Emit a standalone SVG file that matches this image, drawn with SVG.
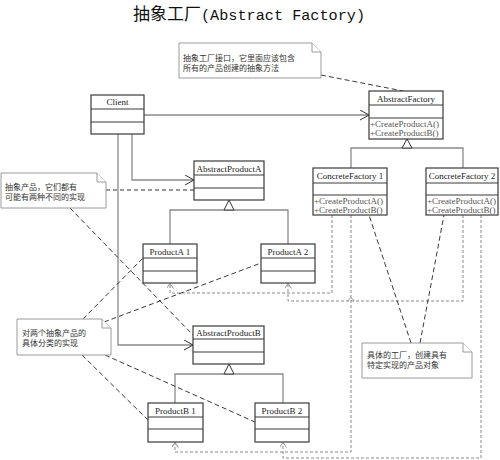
<svg xmlns="http://www.w3.org/2000/svg" width="500" height="460" viewBox="0 0 500 460">
  <style>
    .box { fill: #fff; stroke: #3a3a3a; stroke-width: 1.2; }
    .div { stroke: #3a3a3a; stroke-width: 1.2; }
    .name { font-family: "Liberation Serif", "Noto Sans CJK SC", serif; font-size: 9px; fill: #222; text-anchor: middle; }
    .meth { font-family: "Liberation Serif", "Noto Sans CJK SC", serif; font-size: 9px; fill: #555; }
    .note { fill: #fff; stroke: #9a9a9a; stroke-width: 1; }
    .ntxt { font-family: "Noto Sans CJK SC", sans-serif; font-size: 8px; fill: #333; }
    .solid { fill: none; stroke: #8a8a8a; stroke-width: 1.3; }
    .dep { fill: none; stroke: #8a8a8a; stroke-width: 1; stroke-dasharray: 3 2; }
    .link { fill: none; stroke: #222; stroke-width: 0.9; stroke-dasharray: 5 3; }
    .link2 { fill: none; stroke: #777; stroke-width: 1.3; stroke-dasharray: 4 3; }
    .tri { fill: #fff; stroke: #333; stroke-width: 1; }
  </style>
  <defs>
    <marker id="open" markerUnits="userSpaceOnUse" markerWidth="12" markerHeight="12" refX="9" refY="5" orient="auto">
      <path d="M0,0 L9,5 L0,10" fill="none" stroke="#333" stroke-width="1"/>
    </marker>
    <marker id="depArrow" markerUnits="userSpaceOnUse" markerWidth="8" markerHeight="8" refX="5" refY="3.5" orient="auto">
      <path d="M0,0 L5,3.5 L0,7" fill="none" stroke="#888" stroke-width="0.9"/>
    </marker>
  </defs>

  <text x="133" y="20" font-family="Liberation Mono, Noto Sans CJK SC, monospace" fill="#111"><tspan font-family="Noto Sans CJK SC, sans-serif" font-size="17">抽象工厂</tspan><tspan font-size="15.2">(Abstract Factory)</tspan></text>

  <!-- connectors -->
  <g id="connectors">
    <!-- associations from Client -->
    <path class="solid" d="M144,115 H369" marker-end="url(#open)"/>
    <path class="solid" d="M132,134 V180 H194" marker-end="url(#open)"/>
    <path class="solid" d="M118,134 V345 H193" marker-end="url(#open)"/>
    <!-- generalizations -->
    <path class="solid" d="M351,168 V148 H463 V168"/>
    <path class="solid" d="M407,139 V148"/>
    <polygon class="tri" points="407,139 402,148 412,148"/>
    <path class="solid" d="M170,244 V210 H288 V244"/>
    <polygon class="tri" points="229,200 224,210 234,210"/>
    <path class="solid" d="M175,403 V374 H283 V403"/>
    <polygon class="tri" points="229,364 224,374 234,374"/>
    <!-- factory dependencies -->
    <path class="dep" d="M332,215 V293 H170 V283.5" marker-end="url(#depArrow)"/>
    <path class="dep" d="M463,215 V301 H288 V283.5" marker-end="url(#depArrow)"/>
    <path class="dep" d="M351,215 V452 H175 V442.5" marker-end="url(#depArrow)"/>
    <path fill="none" stroke="#888" stroke-width="0.9" d="M347.5,301 L351,297.5 L354.5,301"/>
    <path class="dep" d="M481,215 V458 H283 V442.5" marker-end="url(#depArrow)"/>
    <!-- note anchors -->
    <path class="link" d="M321,75 L403,91"/>
    <path class="link2" d="M106,190 H194"/>
    <path class="link" d="M70,208 L193,335"/>
    <path class="link" d="M83,319 L143,258"/>
    <path class="link" d="M104,322 L261,263"/>
    <path class="link" d="M82,355 L148,420"/>
    <path class="link" d="M105,355 L255,422"/>
    <path class="link" d="M411,343 L369,215"/>
    <path class="link" d="M420,343 L444,215"/>
  </g>

  <!-- classes -->
  <g id="client">
    <rect class="box" x="91" y="95" width="53" height="39"/>
    <path class="div" d="M91,109 H144 M91,122 H144"/>
    <text class="name" x="117.5" y="105">Client</text>
  </g>
  <g id="abstract-factory">
    <rect class="box" x="369" y="91" width="74" height="48"/>
    <path class="div" d="M369,105 H443 M369,118 H443"/>
    <text class="name" x="406" y="101.5">AbstractFactory</text>
    <text class="meth" x="370" y="127">+CreateProductA()</text>
    <text class="meth" x="370" y="136">+CreateProductB()</text>
  </g>
  <g id="concrete-factory-1">
    <rect class="box" x="313" y="168" width="74" height="47"/>
    <path class="div" d="M313,183 H387 M313,195 H387"/>
    <text class="name" x="350" y="179">ConcreteFactory 1</text>
    <text class="meth" x="314" y="204">+CreateProductA()</text>
    <text class="meth" x="314" y="213">+CreateProductB()</text>
  </g>
  <g id="concrete-factory-2">
    <rect class="box" x="426" y="168" width="72" height="47"/>
    <path class="div" d="M426,183 H498 M426,195 H498"/>
    <text class="name" x="462" y="179">ConcreteFactory 2</text>
    <text class="meth" x="427" y="204">+CreateProductA()</text>
    <text class="meth" x="427" y="213">+CreateProductB()</text>
  </g>
  <g id="abstract-product-a">
    <rect class="box" x="194" y="161" width="70" height="39"/>
    <path class="div" d="M194,175 H264 M194,188 H264"/>
    <text class="name" x="229" y="171.5">AbstractProductA</text>
  </g>
  <g id="product-a1">
    <rect class="box" x="143" y="244" width="54" height="39"/>
    <path class="div" d="M143,258 H197 M143,271 H197"/>
    <text class="name" x="170" y="254.5">ProductA 1</text>
  </g>
  <g id="product-a2">
    <rect class="box" x="261" y="244" width="54" height="39"/>
    <path class="div" d="M261,258 H315 M261,271 H315"/>
    <text class="name" x="288" y="254.5">ProductA 2</text>
  </g>
  <g id="abstract-product-b">
    <rect class="box" x="193" y="326" width="71" height="38"/>
    <path class="div" d="M193,339 H264 M193,352 H264"/>
    <text class="name" x="228.5" y="336">AbstractProductB</text>
  </g>
  <g id="product-b1">
    <rect class="box" x="148" y="403" width="55" height="39"/>
    <path class="div" d="M148,417 H203 M148,429 H203"/>
    <text class="name" x="175.5" y="413.5">ProductB 1</text>
  </g>
  <g id="product-b2">
    <rect class="box" x="255" y="403" width="54" height="39"/>
    <path class="div" d="M255,417 H309 M255,429 H309"/>
    <text class="name" x="282" y="413.5">ProductB 2</text>
  </g>

  <!-- notes -->
  <g id="note-factory">
    <path class="note" d="M179,43 H312 L321,52 V78 H179 Z"/>
    <path class="note" d="M312,43 V52 H321"/>
    <text class="ntxt" x="183" y="61">抽象工厂接口，它里面应该包含</text>
    <text class="ntxt" x="183" y="71">所有的产品创建的抽象方法</text>
  </g>
  <g id="note-abstract-products">
    <path class="note" d="M1,173 H97 L106,182 V208 H1 Z"/>
    <path class="note" d="M97,173 V182 H106"/>
    <text class="ntxt" x="5" y="190">抽象产品，它们都有</text>
    <text class="ntxt" x="5" y="199.5">可能有两种不同的实现</text>
  </g>
  <g id="note-concrete-products">
    <path class="note" d="M17,319 H102 L111,328 V355 H17 Z"/>
    <path class="note" d="M102,319 V328 H111"/>
    <text class="ntxt" x="22" y="336">对两个抽象产品的</text>
    <text class="ntxt" x="22" y="346">具体分类的实现</text>
  </g>
  <g id="note-concrete-factories">
    <path class="note" d="M362,343 H463 L472,352 V378 H362 Z"/>
    <path class="note" d="M463,343 V352 H472"/>
    <text class="ntxt" x="367" y="358">具体的工厂，创建具有</text>
    <text class="ntxt" x="367" y="368">特定实现的产品对象</text>
  </g>
</svg>
